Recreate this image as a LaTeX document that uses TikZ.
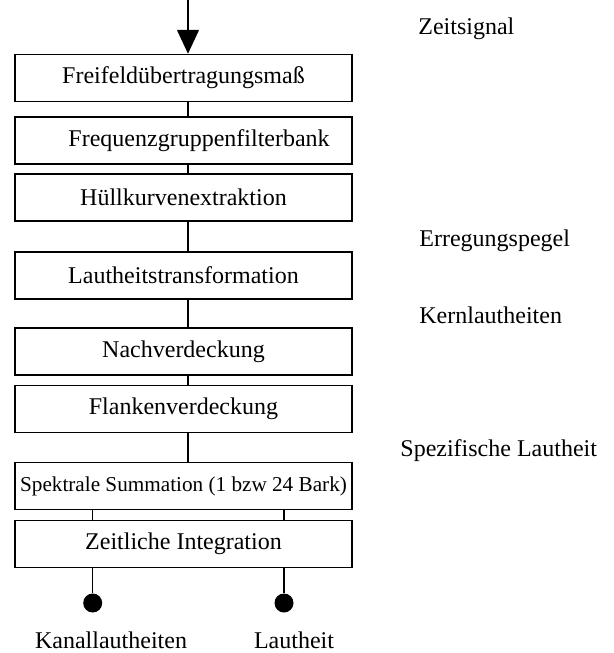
\documentclass[tikz,border=0pt]{standalone}
\usepackage{fontspec}
\setmainfont{Liberation Serif}
\usetikzlibrary{arrows.meta,positioning,calc}

\begin{document}
\begin{tikzpicture}[x=0.5pt,y=-0.5pt,font=\fontsize{12}{14}\selectfont,stage/.style={draw,line width=0.75pt,minimum width=168.5pt,minimum height=23.5pt,inner sep=2pt},wire/.style={line width=0.75pt},feed/.style={-{Triangle[width=11pt,length=12pt]},line width=0.75pt},tap/.style={circle,fill,inner sep=0pt,minimum size=9.5pt},note/.style={anchor=base west,inner sep=0pt}]
\useasboundingbox (0,0) rectangle (614,653);
% processing chain
\node[stage] (s1) at (183.5,78){Freifeldübertragungsmaß};
\node[stage] (s2) at (183.5,140.5){\hspace*{1.3em}Frequenzgruppenfilterbank};
\node[stage] (s3) at (183.5,197.5){Hüllkurvenextraktion};
\node[stage] (s4) at (183.5,275.5){Lautheitstransformation};
\node[stage] (s5) at (183.5,351.5){Nachverdeckung};
\node[stage] (s6) at (183.5,409){Flankenverdeckung};
\node[stage,font=\fontsize{10.6}{12}\selectfont] (s7) at (183.5,486){Spektrale Summation (1 bzw 24 Bark)};
\node[stage] (s8) at (183.5,544){Zeitliche Integration};
% input and links
\coordinate (in) at (188,0);
\draw[feed] (in) -- (in |- s1.north);
\foreach \a/\b in {s1/s2,s2/s3,s3/s4,s4/s5,s5/s6,s6/s7}{\draw[wire] ([xshift=2.25pt]\a.south) -- ([xshift=2.25pt]\b.north);}
\foreach \dx in {-45.4pt,50.25pt}{\draw[wire] ([xshift=\dx]s7.south) -- ([xshift=\dx]s8.north);}
% outputs
\node[tap] (k1) at (92.7,603){};\node[tap] (k2) at (284,603){};
\draw[wire] (s8.south -| k1) -- (k1);\draw[wire] (s8.south -| k2) -- (k2);
\node[anchor=base,inner sep=0pt] (kanal) at (111,648){Kanallautheiten};
\node[anchor=base,inner sep=0pt] (laut) at (294,648){Lautheit};
% signal names
\node[note] (zeit) at (418,34){Zeitsignal};
\node[note] (erreg) at (419,246){Erregungspegel};
\node[note] (kern) at (419,323){Kernlautheiten};
\node[note] (spez) at (400,456){Spezifische Lautheit};
\end{tikzpicture}
\end{document}
